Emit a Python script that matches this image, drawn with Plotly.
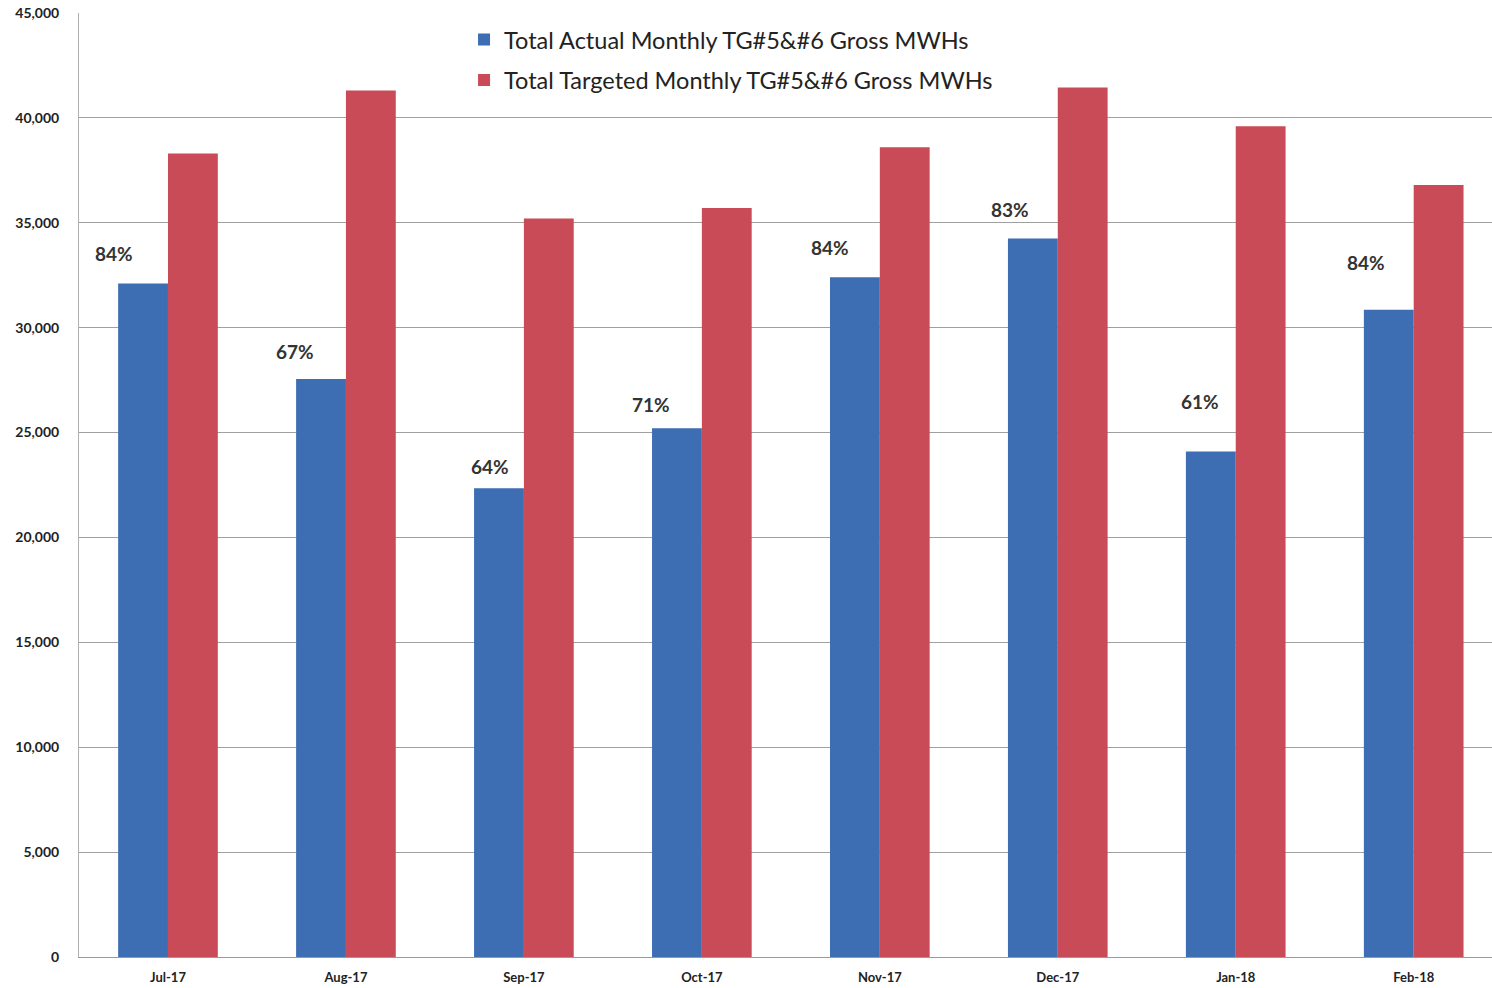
import plotly.graph_objects as go

months = ["Jul-17", "Aug-17", "Sep-17", "Oct-17", "Nov-17", "Dec-17", "Jan-18", "Feb-18"]
actual_mwh = [32100, 27550, 22350, 25200, 32400, 34250, 24100, 30850]
target_mwh = [38300, 41300, 35200, 35700, 38600, 41450, 39600, 36800]
pct_labels = ["84%", "67%", "64%", "71%", "84%", "83%", "61%", "84%"]

# placement (px) of each percentage label relative to its month's blue bar top
label_lift = [30, 28, 22, 24, 30, 29, 50, 47]
label_shift = [-54, -51, -34, -51, -50, -48, -36, -48]

BLUE = "#3d6db3"
RED = "#c84b57"

fig = go.Figure()
fig.add_trace(go.Bar(
    x=months, y=actual_mwh, name="Total Actual Monthly TG#5&amp;#6 Gross MWHs",
    legendgroup="actual",
    marker=dict(color=BLUE, line=dict(width=0)),
))
fig.add_trace(go.Bar(
    x=months, y=target_mwh, name="Total Targeted Monthly TG#5&amp;#6 Gross MWHs",
    legendgroup="target",
    marker=dict(color=RED, line=dict(width=0)),
))

for m, v, t, lift, sh in zip(months, actual_mwh, pct_labels, label_lift, label_shift):
    fig.add_annotation(
        x=m, y=v, text=t, showarrow=False, xref="x", yref="y",
        yshift=lift, xshift=sh,
        font=dict(family="Lato, Arial", size=19, color="#333333", weight="bold"),
    )

fig.update_layout(
    width=1492, height=988,
    margin=dict(l=79, r=0, t=13, b=31),
    paper_bgcolor="white", plot_bgcolor="white",
    barmode="group", bargap=0.44, bargroupgap=0,
    showlegend=True,
    legend=dict(
        x=0.2725, y=0.995, xanchor="left", yanchor="top",
        font=dict(family="Lato, Arial", size=23.5, color="#222222"),
        bgcolor="rgba(0,0,0,0)", itemwidth=30, tracegroupgap=7,
    ),
    font=dict(family="Lato, Arial", color="#222222"),
)
fig.update_xaxes(
    range=[-0.5, 7.44], showgrid=False, showline=True, linecolor="#9a9a9a",
    linewidth=1, ticks="", ticklabelstandoff=8,
    tickfont=dict(size=13, color="#222222", weight="bold"),
)
fig.update_yaxes(
    range=[0, 45000], dtick=5000, tickformat=",d",
    showgrid=True, gridcolor="#a0a0a0", gridwidth=1,
    showline=True, linecolor="#b0b0b0", zeroline=False,
    ticks="", ticklen=0, ticklabelstandoff=16,
    tickfont=dict(size=14, color="#222222", weight="bold"),
)

fig.write_html("out.html")
